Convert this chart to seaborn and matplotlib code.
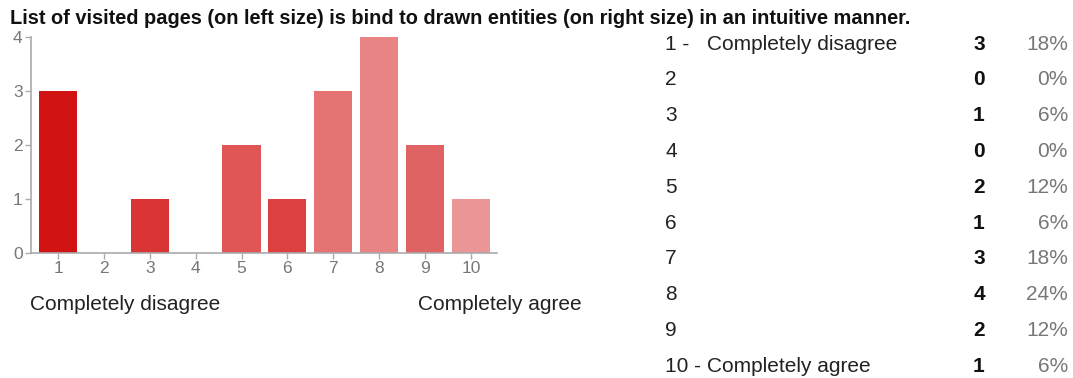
import matplotlib
matplotlib.use("Agg")
import matplotlib.pyplot as plt
import seaborn as sns
import pandas as pd

# ---- data ----
title = "List of visited pages (on left size) is bind to drawn entities (on right size) in an intuitive manner."
categories = ["1", "2", "3", "4", "5", "6", "7", "8", "9", "10"]
counts = [3, 0, 1, 0, 2, 1, 3, 4, 2, 1]
percents = ["18%", "0%", "6%", "0%", "12%", "6%", "18%", "24%", "12%", "6%"]
row_numbers = ["1 -", "2", "3", "4", "5", "6", "7", "8", "9", "10 -"]
row_desc = ["Completely disagree", "", "", "", "", "", "", "", "", "Completely agree"]
bar_colors = ["#D21313", "#D62525", "#D93535", "#DC4545", "#E05555", "#DC4040",
              "#E57373", "#E88484", "#E06363", "#EB9696"]
low_label = "Completely disagree"
high_label = "Completely agree"

sns.set_style("white")
plt.rcParams["font.family"] = ["Liberation Sans", "DejaVu Sans"]

W, H = 1073, 378
fig = plt.figure(figsize=(W / 100, H / 100), dpi=100)

def px_axes(x0, y_top, x1, y_bot):
    return fig.add_axes([x0 / W, 1 - y_bot / H, (x1 - x0) / W, (y_bot - y_top) / H])

ax = px_axes(31, 37, 497, 253)
df = pd.DataFrame({"cat": categories, "count": counts})
sns.barplot(data=df, x="cat", y="count", hue="cat", palette=bar_colors,
            order=categories, width=0.83, legend=False, ax=ax,
            edgecolor="none", linewidth=0, saturation=1)
ax.set_xlim(-0.59, 9.57)
ax.set_ylim(0, 4)
ax.set_yticks([0, 1, 2, 3, 4])
ax.set_xlabel("")
ax.set_ylabel("")
for s in ["top", "right"]:
    ax.spines[s].set_visible(False)
for s in ["left", "bottom"]:
    ax.spines[s].set_color("#AAAAAA")
    ax.spines[s].set_linewidth(1.2)
ax.tick_params(axis="both", colors="#AAAAAA", labelcolor="#777777",
               labelsize=12.5, length=4, width=1, direction="out", pad=2,
               left=True, bottom=True)
ax.grid(False)

# title
fig.text(10 / W, 1 - 18 / H, title, fontsize=14.45, fontweight="bold",
         color="#111111", va="center", ha="left")

# end labels under chart
fig.text(30 / W, 1 - 304 / H, low_label, fontsize=15, color="#222222",
         va="center", ha="left")
fig.text(582 / W, 1 - 304 / H, high_label, fontsize=15, color="#222222",
         va="center", ha="right")

# right-side table
y0, dy = 44, 35.8
for i in range(len(categories)):
    y = 1 - (y0 + i * dy) / H
    fig.text(665 / W, y, row_numbers[i], fontsize=15, color="#222222",
             va="center", ha="left")
    if row_desc[i]:
        fig.text(707 / W, y, row_desc[i], fontsize=15, color="#222222",
                 va="center", ha="left")
    fig.text(979 / W, y, str(counts[i]), fontsize=15, fontweight="bold",
             color="#111111", va="center", ha="center")
    fig.text(1068 / W, y, percents[i], fontsize=15, color="#777777",
             va="center", ha="right")

fig.savefig("out.png", dpi=100)
